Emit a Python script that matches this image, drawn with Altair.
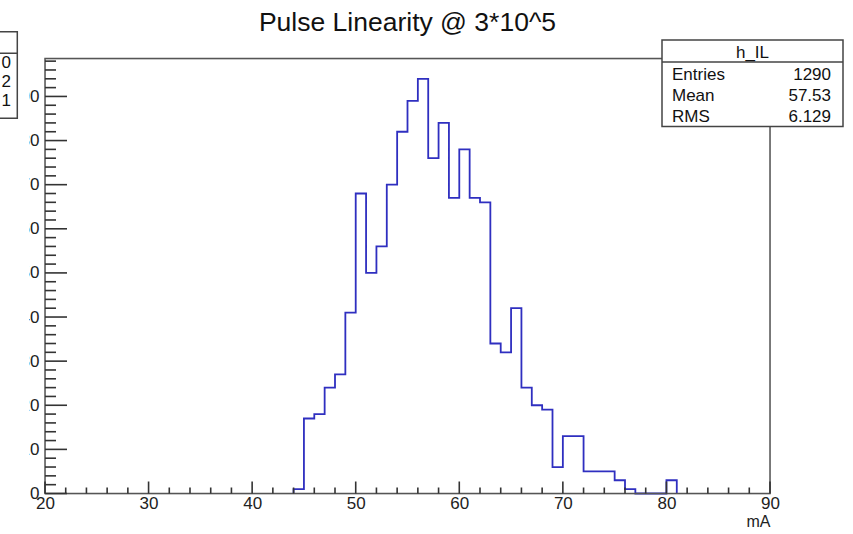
import altair as alt
import pandas as pd

# ---- data ----
bin_low = list(range(44, 81))  # lower edges of 1 mA bins
counts = [1, 17, 18, 24, 27, 41, 68, 50, 56, 70, 82, 89, 94, 76, 84, 67, 78,
          67, 66, 34, 32, 42, 24, 20, 19, 6, 13, 13, 5, 5, 5, 3, 1, 0, 0, 0, 3]
x_major = [20, 30, 40, 50, 60, 70, 80, 90]
x_minor = [v for v in range(22, 90, 2) if v % 10 != 0]
y_major = [0, 10, 20, 30, 40, 50, 60, 70, 80, 90]
y_minor = [v for v in range(2, 99, 2) if v % 10 != 0]
stats_labels = ["Entries", "Mean", "RMS"]
stats_values = ["1290", "57.53", "6.129"]
left_box_values = ["0", "2", "1"]
title_text = "Pulse Linearity @ 3*10^5"
hist_name = "h_IL"

W, H = 725, 435
FONT = "Liberation Sans"
XDOM = [20, 90]
YDOM = [0, 98.6]

# step outline points
pts_x = [bin_low[0]] + bin_low + [bin_low[-1] + 1]
pts_y = [0] + counts + [0]
hist = pd.DataFrame({"x": pts_x, "y": pts_y, "o": list(range(len(pts_x)))})

xs = alt.Scale(domain=XDOM, nice=False, zero=False)
ys = alt.Scale(domain=YDOM, nice=False, zero=False)

one = pd.DataFrame({"a": [0]})

line = alt.Chart(hist).mark_line(
    interpolate="step-after", color="#2f2fc0", strokeWidth=1.8
).encode(
    x=alt.X("x:Q", scale=xs, axis=alt.Axis(
        values=x_major, format="d", grid=False, domain=False, ticks=False,
        labelFlush=False, labelOverlap=False,
        labelFont=FONT, labelFontSize=17, labelColor="#222", labelPadding=2,
        title="mA", titleFont=FONT, titleFontSize=16, titleFontWeight="normal",
        titleColor="#222", titleAnchor="end", titlePadding=2)),
    y=alt.Y("y:Q", scale=ys, axis=alt.Axis(
        values=y_major, format="d", grid=False, domain=False, ticks=False,
        labelFlush=False, labelOverlap=False,
        labelFont=FONT, labelFontSize=17, labelColor="#222", labelPadding=6,
        title=None)),
    order="o:Q",
)

frame = alt.Chart(one).mark_rect(
    fill=None, stroke="#555", strokeWidth=1.5
).encode(x=alt.value(0), x2=alt.value(W), y=alt.value(0), y2=alt.value(H))

xmaj = alt.Chart(pd.DataFrame({"v": x_major})).mark_rule(color="#333", strokeWidth=1.6).encode(
    x=alt.X("v:Q", scale=xs), y=alt.value(H), y2=alt.value(H - 12))
xmin = alt.Chart(pd.DataFrame({"v": x_minor})).mark_rule(color="#333", strokeWidth=1.6).encode(
    x=alt.X("v:Q", scale=xs), y=alt.value(H), y2=alt.value(H - 6))
ymaj = alt.Chart(pd.DataFrame({"v": y_major})).mark_rule(color="#333", strokeWidth=1.6).encode(
    y=alt.Y("v:Q", scale=ys), x=alt.value(0), x2=alt.value(22))
ymin = alt.Chart(pd.DataFrame({"v": y_minor})).mark_rule(color="#333", strokeWidth=1.6).encode(
    y=alt.Y("v:Q", scale=ys), x=alt.value(0), x2=alt.value(11))

title = alt.Chart(pd.DataFrame({"t": [title_text]})).mark_text(
    font=FONT, fontSize=26.5, color="#111", align="center", baseline="alphabetic"
).encode(text="t:N", x=alt.value(W / 2), y=alt.value(-28))

# stats box (top right)
BX0, BX1, BY0, BY1, BYH = 617, 798, -18.5, 68, 3.5
box = alt.Chart(one).mark_rect(
    fill="white", stroke="#444", strokeWidth=1.5
).encode(x=alt.value(BX0), x2=alt.value(BX1), y=alt.value(BY0), y2=alt.value(BY1))
box_line = alt.Chart(one).mark_rule(color="#444", strokeWidth=1.5).encode(
    x=alt.value(BX0), x2=alt.value(BX1), y=alt.value(BYH))
box_title = alt.Chart(pd.DataFrame({"t": [hist_name]})).mark_text(
    font=FONT, fontSize=17, color="#111", align="center", baseline="middle"
).encode(text="t:N", x=alt.value((BX0 + BX1) / 2), y=alt.value(-6))

stat_layers = []
for i, (lab, val) in enumerate(zip(stats_labels, stats_values)):
    ry = 16.5 + i * 21
    stat_layers.append(alt.Chart(pd.DataFrame({"t": [lab]})).mark_text(
        font=FONT, fontSize=17, color="#111", align="left", baseline="middle"
    ).encode(text="t:N", x=alt.value(BX0 + 10), y=alt.value(ry)))
    stat_layers.append(alt.Chart(pd.DataFrame({"t": [val]})).mark_text(
        font=FONT, fontSize=17, color="#111", align="right", baseline="middle"
    ).encode(text="t:N", x=alt.value(BX1 - 12), y=alt.value(ry)))

# white strip and partly hidden box at far left (another window overlapping)
strip = alt.Chart(one).mark_rect(fill="white").encode(
    x=alt.value(-60), x2=alt.value(-16), y=alt.value(-70), y2=alt.value(H + 50))
lbox = alt.Chart(one).mark_rect(
    fill="white", stroke="#444", strokeWidth=1.5
).encode(x=alt.value(-60), x2=alt.value(-27.7), y=alt.value(-26.8), y2=alt.value(59.8))
lbox_line = alt.Chart(one).mark_rule(color="#444", strokeWidth=1.5).encode(
    x=alt.value(-60), x2=alt.value(-27.7), y=alt.value(-5.2))
lbox_layers = []
for i, v in enumerate(left_box_values):
    lbox_layers.append(alt.Chart(pd.DataFrame({"t": [v]})).mark_text(
        font=FONT, fontSize=17, color="#111", align="right", baseline="middle"
    ).encode(text="t:N", x=alt.value(-34), y=alt.value(4.5 + i * 19)))

chart = alt.layer(
    line, frame, xmaj, xmin, ymaj, ymin, title,
    box, box_line, box_title, *stat_layers,
    strip, lbox, lbox_line, *lbox_layers,
).properties(
    width=W, height=H,
    autosize=alt.AutoSizeParams(type="none"),
    padding={"left": 45, "top": 58.5, "right": 83, "bottom": 40.5},
).configure_view(stroke=None).configure(background="white")

chart.save("out.html", embed_options={"renderer": "svg", "actions": False})
